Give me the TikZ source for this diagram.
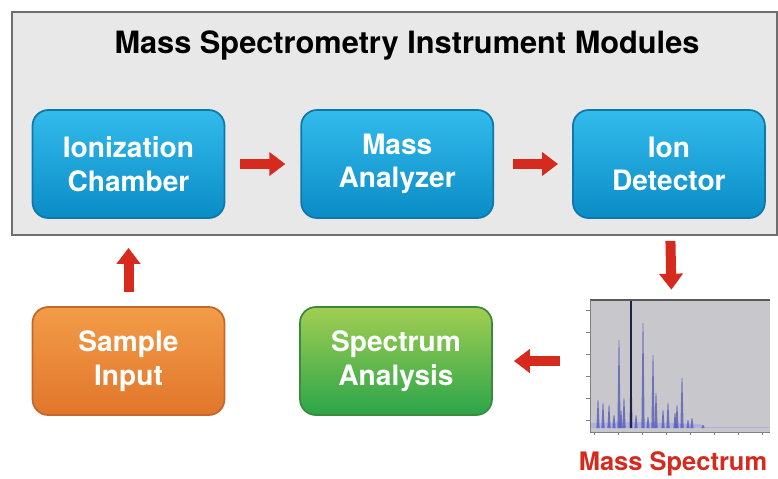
\documentclass[tikz,border=0pt]{standalone}
\usepackage{fontspec}
\setmainfont{TeX Gyre Heros}
\usetikzlibrary{positioning,arrows.meta}

\definecolor{frameGray}{HTML}{E8E8E8}
\definecolor{frameLine}{HTML}{6E6E6E}
\definecolor{blueTop}{HTML}{33BBEC}
\definecolor{blueBot}{HTML}{0A8CC6}
\definecolor{blueLine}{HTML}{0E78AC}
\definecolor{orangeTop}{HTML}{F29C48}
\definecolor{orangeBot}{HTML}{E1762A}
\definecolor{orangeLine}{HTML}{C4672C}
\definecolor{greenTop}{HTML}{A2CE52}
\definecolor{greenBot}{HTML}{2BA54A}
\definecolor{greenLine}{HTML}{3C8A3F}
\definecolor{flowRed}{HTML}{D62A1F}
\definecolor{plotGray}{HTML}{C8C8CC}
\definecolor{peakBlue}{HTML}{4F55B5}

\begin{document}
\begin{tikzpicture}[x=0.02cm, y=-0.02cm,
  module/.style={rectangle, rounded corners=9pt, align=center, minimum width=3.84cm, minimum height=2.16cm,
    text=white, line width=1pt, font=\bfseries\fontsize{16}{19}\selectfont},
  bluebox/.style={module, draw=blueLine, top color=blueTop, bottom color=blueBot},
  flow/.style={-{Triangle[length=0.32cm, width=0.46cm]}, line width=0.2cm, flowRed},
  caption/.style={font=\bfseries\fontsize{14.5}{17}\selectfont},
]
\useasboundingbox (0,0) rectangle (778,478);

% === Instrument frame ===
\draw[frameLine, fill=frameGray, line width=0.8pt] (12,12) rectangle (777,235);
\node[font=\bfseries\fontsize{17.5}{21}\selectfont] (title) at (407,45) {Mass Spectrometry Instrument Modules};

% === Modules (top row) ===
\node[bluebox] (ion) at (128.5,164) {Ionization\\Chamber};
\node[bluebox, right=1.5cm of ion] (mass) {Mass\\Analyzer};
\node[bluebox, right=1.56cm of mass] (det) {Ion\\Detector};

% === Bottom row ===
\node[module, draw=orangeLine, top color=orangeTop, bottom color=orangeBot] (sample) at (128.5,361) {Sample\\Input};
\node[module, draw=greenLine, top color=greenTop, bottom color=greenBot] (ana) at (396,361) {Spectrum\\Analysis};

% === Spectrum plot ===
\node[rectangle, fill=white, minimum width=3.88cm, minimum height=2.82cm, inner sep=0pt] (spec) at (673,369.5) {};
\fill[plotGray] (590,300) rectangle (770,432);
\draw[gray!70!black, line width=1.2pt] (590,300) -- (770,300);
\draw[gray, line width=0.3pt] (590,300) -- (590,432) -- (770,432);
\foreach \ty in {310,332,354,376,398,420}
  \draw[gray, line width=0.3pt] (586,\ty) -- (590,\ty);
\foreach \tx in {594,618,642,666,690,714,738,762}
  \draw[gray, line width=0.3pt] (\tx,432) -- (\tx,435);
\fill[peakBlue!45] (591,428) -- (591,423) -- (640,422) -- (700,424) -- (706,427) -- (770,427) -- (770,428) -- cycle;
\foreach \px/\py in {598/400, 603/403, 609/405, 619/340, 621/410, 624/398, 643/323, 653/355, 656/393,
    663/410, 668/403, 675/413, 677/405, 682/378, 692/418, 703/425, 614/415, 636/415, 648/417, 688/420}
  \fill[peakBlue, opacity=0.75] (\px-1.6,428) -- (\px-0.4,\py) -- (\px+0.4,\py) -- (\px+1.6,428) -- cycle;
\fill[peakBlue] (629.5,428) -- (630.5,367) -- (631.5,367) -- (632.5,428) -- cycle;
\draw[peakBlue!40!black, line width=0.7pt] (631,428) -- (631,301);
\node[caption, flowRed, below=0.1cm of spec] (speclabel) {Mass Spectrum};

% === Flow arrows ===
\draw[flow, shorten <=0.3cm, shorten >=0.3cm] (ion) -- (mass);
\draw[flow, shorten <=0.38cm, shorten >=0.28cm] (mass) -- (det);
\draw[flow, shorten <=0.44cm, shorten >=0.18cm] (det) -- (spec);
\draw[flow, shorten <=0.32cm, shorten >=0.42cm] (spec.west |- ana) -- (ana);
\draw[flow, shorten <=0.28cm, shorten >=0.58cm] (sample) -- (ion);

\end{tikzpicture}
\end{document}
